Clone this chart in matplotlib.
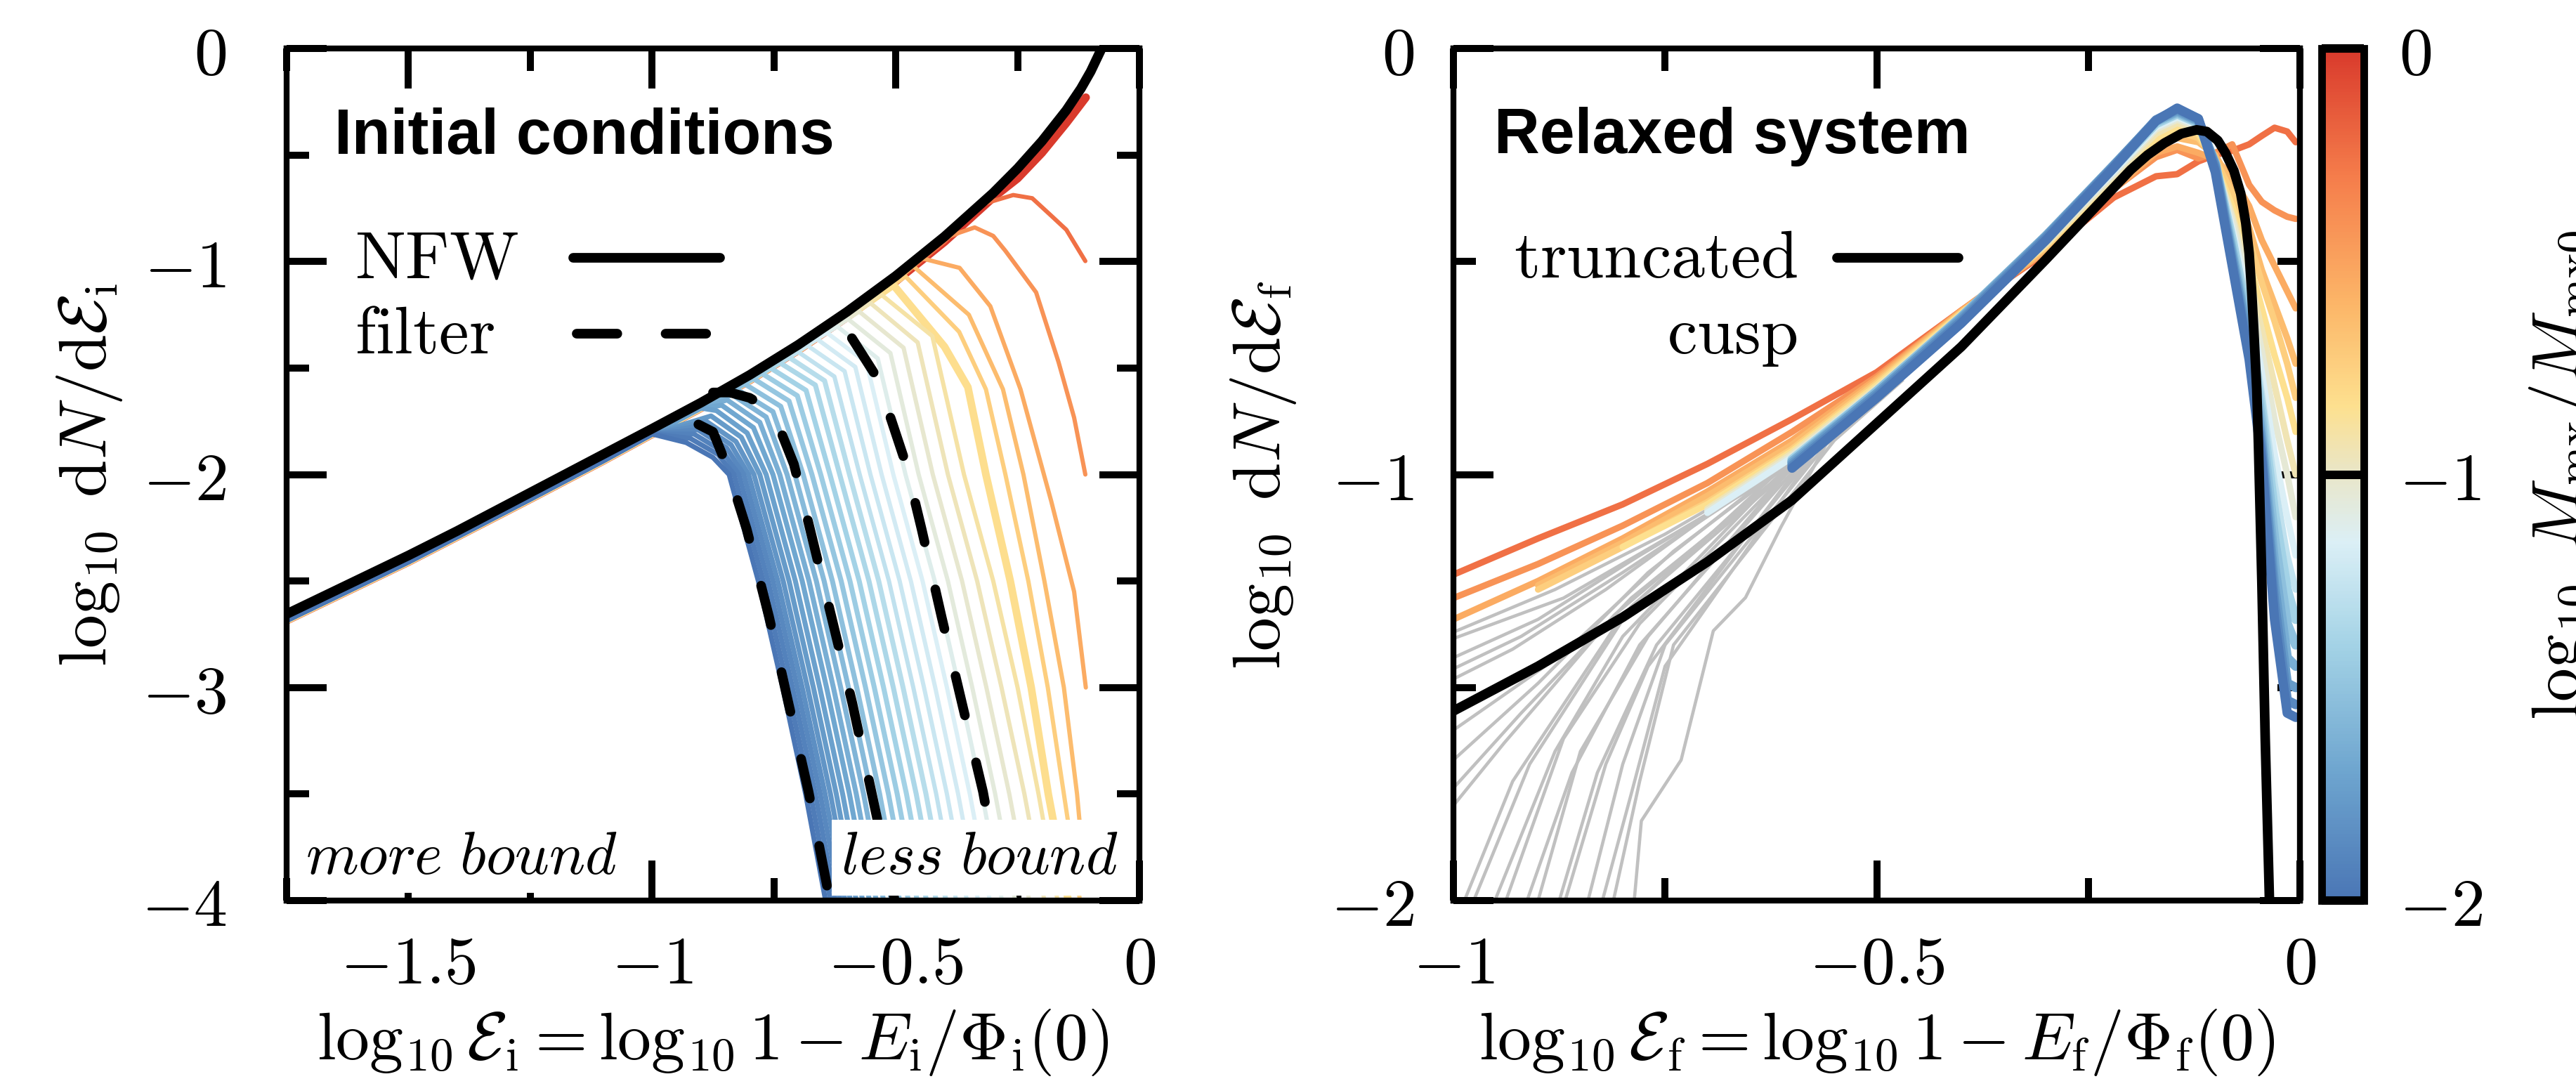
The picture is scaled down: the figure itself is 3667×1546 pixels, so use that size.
import numpy as np
import matplotlib
matplotlib.use("Agg")
import matplotlib.pyplot as plt
from matplotlib.colors import LinearSegmentedColormap, Normalize
from matplotlib.ticker import FixedLocator, FixedFormatter
from matplotlib.cm import ScalarMappable

plt.rcParams["mathtext.fontset"] = "cm"
plt.rcParams["font.family"] = ["DejaVu Sans"]

# ---------------------------------------------------------------- data
# Left panel: NFW energy distribution
nfw_x = [-1.75, -1.6, -1.5, -1.4, -1.3, -1.2, -1.1, -1.0, -0.9, -0.8, -0.7, -0.6,
         -0.5, -0.4, -0.3, -0.25, -0.2, -0.15, -0.12, -0.1, -0.08, -0.07]
nfw_y = [-2.655, -2.49, -2.38, -2.265, -2.145, -2.025, -1.905, -1.785, -1.663, -1.533,
         -1.391, -1.236, -1.068, -0.883, -0.678, -0.563, -0.435, -0.29, -0.188, -0.108,
         -0.012, 0.045]

# Left panel: shared low-energy branch of the sampled snapshots (just under NFW)
snap_low_x = [-1.75, -1.5, -1.25, -1.1, -1.0, -0.9, -0.8, -0.7, -0.6, -0.5, -0.4,
              -0.3, -0.25, -0.2, -0.15, -0.12]
snap_low_y = [-2.685, -2.41, -2.115, -1.935, -1.81, -1.688, -1.558, -1.416, -1.261,
              -1.093, -0.908, -0.703, -0.588, -0.46, -0.315, -0.213]

# Left panel: filter curves (dashed)
filter1_x = [-0.905, -0.875, -0.848, -0.806, -0.760, -0.720, -0.679, -0.636]
filter1_y = [-1.765, -1.80, -1.952, -2.256, -2.668, -3.075, -3.489, -3.99]
filter2_x = [-0.875, -0.84, -0.80, -0.77, -0.745, -0.709, -0.676, -0.632, -0.589, -0.550, -0.503]
filter2_y = [-1.615, -1.615, -1.64, -1.68, -1.745, -1.952, -2.256, -2.668, -3.075, -3.489, -3.99]
filter3_x = [-0.59, -0.54, -0.509, -0.479, -0.447, -0.406, -0.364, -0.321, -0.28]
filter3_y = [-1.36, -1.54, -1.745, -1.952, -2.256, -2.668, -3.075, -3.489, -4.0]

# Left panel: stripped snapshots (colour = log10 Mmx/Mmx0); vertices after leaving NFW
left_c = [-2.00, -1.96, -1.92, -1.88, -1.84, -1.80, -1.76, -1.72, -1.68, -1.64,
          -1.60, -1.56, -1.52, -1.48, -1.44, -1.40, -1.36, -1.32, -1.28, -1.24,
          -1.20, -1.16, -1.12, -1.07, -1.02, -0.96, -0.90, -0.83, -0.74, -0.64,
          -0.54, -0.42, -0.25, 0.00]
left_vx = [
    [-0.930, -0.875, -0.842, -0.782, -0.732, -0.685, -0.644],
    [-0.922, -0.865, -0.832, -0.772, -0.722, -0.675, -0.634],
    [-0.914, -0.856, -0.822, -0.762, -0.712, -0.665, -0.624],
    [-0.906, -0.847, -0.812, -0.752, -0.702, -0.655, -0.614],
    [-0.898, -0.838, -0.802, -0.742, -0.692, -0.645, -0.604],
    [-0.889, -0.828, -0.791, -0.731, -0.681, -0.634, -0.593],
    [-0.879, -0.817, -0.779, -0.719, -0.669, -0.622, -0.581],
    [-0.868, -0.805, -0.766, -0.706, -0.656, -0.609, -0.568],
    [-0.857, -0.792, -0.752, -0.692, -0.642, -0.595, -0.554],
    [-0.846, -0.779, -0.738, -0.678, -0.628, -0.581, -0.540],
    [-0.836, -0.766, -0.723, -0.663, -0.613, -0.566, -0.525],
    [-0.826, -0.752, -0.707, -0.647, -0.597, -0.550, -0.509],
    [-0.810, -0.736, -0.690, -0.630, -0.580, -0.533, -0.492],
    [-0.792, -0.719, -0.672, -0.612, -0.562, -0.515, -0.474],
    [-0.775, -0.702, -0.654, -0.594, -0.544, -0.497, -0.456],
    [-0.757, -0.684, -0.635, -0.575, -0.525, -0.478, -0.437],
    [-0.738, -0.665, -0.615, -0.555, -0.505, -0.458, -0.417],
    [-0.719, -0.646, -0.595, -0.535, -0.485, -0.438, -0.397],
    [-0.700, -0.626, -0.574, -0.514, -0.464, -0.417, -0.376],
    [-0.681, -0.605, -0.552, -0.492, -0.442, -0.395, -0.354],
    [-0.661, -0.583, -0.529, -0.469, -0.419, -0.372, -0.331],
    [-0.641, -0.560, -0.505, -0.445, -0.395, -0.348, -0.307],
    [-0.620, -0.537, -0.480, -0.420, -0.370, -0.323, -0.282],
    [-0.598, -0.511, -0.453, -0.393, -0.343, -0.296, -0.255],
    [-0.575, -0.484, -0.424, -0.364, -0.314, -0.267, -0.226],
    [-0.552, -0.455, -0.393, -0.333, -0.283, -0.236, -0.195],
    [-0.530, -0.425, -0.360, -0.300, -0.250, -0.207, -0.168],
    [-0.505, -0.400, -0.352, -0.315, -0.265, -0.222, -0.187, -0.146],
    [-0.480, -0.370, -0.315, -0.275, -0.228, -0.188, -0.155, -0.122],
    [-0.465, -0.350, -0.280, -0.238, -0.195, -0.155, -0.128, -0.110],
    [-0.447, -0.369, -0.306, -0.244, -0.181, -0.134, -0.110],
    [-0.420, -0.370, -0.338, -0.300, -0.275, -0.212, -0.166, -0.134, -0.111],
    [-0.330, -0.306, -0.259, -0.220, -0.181, -0.150, -0.111],
    [-0.300, -0.250, -0.200, -0.150, -0.110],
]
left_vy = [
    [-1.850, -1.920, -2.0, -2.5, -3.0, -3.5, -4.0],
    [-1.830, -1.905, -2.0, -2.5, -3.0, -3.5, -4.0],
    [-1.810, -1.890, -2.0, -2.5, -3.0, -3.5, -4.0],
    [-1.790, -1.875, -2.0, -2.5, -3.0, -3.5, -4.0],
    [-1.770, -1.860, -2.0, -2.5, -3.0, -3.5, -4.0],
    [-1.750, -1.845, -2.0, -2.5, -3.0, -3.5, -4.0],
    [-1.725, -1.825, -2.0, -2.5, -3.0, -3.5, -4.0],
    [-1.700, -1.805, -2.0, -2.5, -3.0, -3.5, -4.0],
    [-1.675, -1.780, -2.0, -2.5, -3.0, -3.5, -4.0],
    [-1.650, -1.755, -2.0, -2.5, -3.0, -3.5, -4.0],
    [-1.625, -1.730, -2.0, -2.5, -3.0, -3.5, -4.0],
    [-1.600, -1.705, -2.0, -2.5, -3.0, -3.5, -4.0],
    [-1.575, -1.680, -2.0, -2.5, -3.0, -3.5, -4.0],
    [-1.550, -1.655, -2.0, -2.5, -3.0, -3.5, -4.0],
    [-1.525, -1.630, -2.0, -2.5, -3.0, -3.5, -4.0],
    [-1.500, -1.605, -2.0, -2.5, -3.0, -3.5, -4.0],
    [-1.475, -1.580, -2.0, -2.5, -3.0, -3.5, -4.0],
    [-1.450, -1.560, -2.0, -2.5, -3.0, -3.5, -4.0],
    [-1.425, -1.540, -2.0, -2.5, -3.0, -3.5, -4.0],
    [-1.395, -1.515, -2.0, -2.5, -3.0, -3.5, -4.0],
    [-1.365, -1.495, -2.0, -2.5, -3.0, -3.5, -4.0],
    [-1.335, -1.475, -2.0, -2.5, -3.0, -3.5, -4.0],
    [-1.305, -1.455, -2.0, -2.5, -3.0, -3.5, -4.0],
    [-1.270, -1.430, -2.0, -2.5, -3.0, -3.5, -4.0],
    [-1.235, -1.405, -2.0, -2.5, -3.0, -3.5, -4.0],
    [-1.195, -1.380, -2.0, -2.5, -3.0, -3.5, -4.0],
    [-1.155, -1.350, -2.0, -2.5, -3.0, -3.5, -4.0],
    [-1.110, -1.400, -1.590, -2.0, -2.5, -3.0, -3.5, -4.0],
    [-1.070, -1.330, -1.600, -2.0, -2.5, -3.0, -3.5, -4.0],
    [-1.020, -1.250, -1.600, -2.0, -2.5, -3.0, -3.5, -3.95],
    [-0.985, -1.030, -1.210, -1.600, -2.125, -2.550, -3.0],
    [-0.910, -0.865, -0.840, -0.880, -0.950, -1.145, -1.472, -1.733, -2.0],
    [-0.740, -0.720, -0.688, -0.703, -0.785, -0.851, -0.998],
    [-0.700, -0.610, -0.490, -0.350, -0.230],
]

# Right panel: truncated cusp model
trunc_x = [-1.0, -0.9, -0.8, -0.7, -0.6, -0.5, -0.4, -0.3, -0.25, -0.2, -0.18, -0.16,
           -0.14, -0.122, -0.11, -0.097, -0.088, -0.078, -0.07, -0.064, -0.06, -0.057,
           -0.054, -0.051, -0.049, -0.045, -0.041, -0.036, -0.034]
trunc_y = [-1.555, -1.45, -1.335, -1.205, -1.06, -0.88, -0.70, -0.495, -0.39, -0.285,
           -0.25, -0.222, -0.20, -0.191, -0.195, -0.216, -0.245, -0.287, -0.34, -0.409,
           -0.48, -0.57, -0.68, -0.80, -0.93, -1.25, -1.62, -2.0, -2.2]

# Right panel: relaxed snapshots on a common energy grid (nan = not shown in colour)
nan = float("nan")
right_x = [-1.0, -0.9, -0.8, -0.7, -0.6, -0.5, -0.4, -0.3, -0.22, -0.17, -0.145,
           -0.12, -0.1, -0.08, -0.06, -0.045, -0.03, -0.015, -0.005]
right_c = [-2.00, -1.88, -1.76, -1.64, -1.52, -1.40, -1.28, -1.16, -1.04, -0.94,
           -0.84, -0.74, -0.64, -0.54, -0.42, -0.25]
right_y = [
    [nan, nan, nan, nan, -0.985, -0.82, -0.645, -0.45, -0.28, -0.17, -0.14, -0.165, -0.29, -0.51, -0.73, -0.97, -1.34, -1.56, -1.57],
    [nan, nan, nan, nan, -0.98, -0.815, -0.64, -0.445, -0.277, -0.168, -0.142, -0.165, -0.28, -0.50, -0.72, -0.95, -1.30, -1.53, -1.54],
    [nan, nan, nan, nan, -0.975, -0.81, -0.635, -0.442, -0.275, -0.168, -0.145, -0.168, -0.275, -0.49, -0.70, -0.93, -1.26, -1.49, -1.50],
    [nan, nan, nan, nan, -0.97, -0.81, -0.632, -0.44, -0.274, -0.17, -0.148, -0.17, -0.272, -0.48, -0.69, -0.91, -1.21, -1.43, -1.45],
    [nan, nan, nan, nan, -0.97, -0.805, -0.63, -0.44, -0.276, -0.172, -0.15, -0.172, -0.27, -0.47, -0.67, -0.88, -1.15, -1.35, -1.40],
    [nan, nan, nan, nan, -0.965, -0.805, -0.63, -0.442, -0.28, -0.176, -0.153, -0.175, -0.27, -0.45, -0.65, -0.85, -1.09, -1.27, -1.34],
    [nan, nan, nan, nan, -0.965, -0.80, -0.63, -0.445, -0.285, -0.18, -0.157, -0.178, -0.27, -0.44, -0.62, -0.81, -1.02, -1.19, -1.27],
    [nan, nan, nan, -1.09, -0.96, -0.80, -0.628, -0.45, -0.29, -0.185, -0.162, -0.18, -0.27, -0.42, -0.59, -0.76, -0.95, -1.10, -1.19],
    [nan, nan, nan, -1.085, -0.955, -0.80, -0.627, -0.455, -0.295, -0.19, -0.167, -0.185, -0.27, -0.40, -0.56, -0.71, -0.87, -1.00, -1.10],
    [nan, nan, nan, -1.08, -0.95, -0.795, -0.625, -0.46, -0.30, -0.20, -0.175, -0.19, -0.27, -0.39, -0.53, -0.66, -0.79, -0.92, -1.00],
    [nan, nan, -1.17, -1.07, -0.945, -0.79, -0.622, -0.462, -0.305, -0.21, -0.185, -0.20, -0.27, -0.37, -0.50, -0.61, -0.72, -0.82, -0.90],
    [nan, -1.27, -1.17, -1.065, -0.94, -0.785, -0.62, -0.465, -0.31, -0.22, -0.195, -0.21, -0.26, -0.34, -0.45, -0.55, -0.64, -0.74, -0.82],
    [nan, -1.26, -1.16, -1.05, -0.93, -0.78, -0.618, -0.47, -0.32, -0.23, -0.21, -0.22, -0.25, -0.32, -0.42, -0.52, -0.60, -0.68, -0.74],
    [-1.34, -1.25, -1.15, -1.04, -0.92, -0.775, -0.616, -0.475, -0.33, -0.245, -0.23, -0.245, -0.26, -0.30, -0.37, -0.45, -0.51, -0.57, -0.61],
    [-1.29, -1.21, -1.12, -1.02, -0.90, -0.77, -0.615, -0.47, -0.33, -0.255, -0.238, -0.258, -0.245, -0.225, -0.32, -0.36, -0.38, -0.395, -0.40],
    [-1.235, -1.15, -1.07, -0.975, -0.87, -0.76, -0.615, -0.48, -0.35, -0.30, -0.295, -0.265, -0.25, -0.24, -0.225, -0.205, -0.186, -0.195, -0.22],
]

# Right panel: poorly resolved low-energy tails (grey)
gray_x = [
    [-0.55, -0.62, -0.75, -0.88, -1.0],
    [-0.53, -0.60, -0.74, -0.87, -1.0],
    [-0.55, -0.62, -0.78, -0.90, -1.0],
    [-0.57, -0.64, -0.80, -0.92, -1.0],
    [-0.58, -0.66, -0.82, -0.93, -1.0],
    [-0.54, -0.62, -0.74, -0.87, -1.0],
    [-0.55, -0.63, -0.77, -0.90, -1.0],
    [-0.52, -0.60, -0.79, -0.92, -1.0],
    [-0.53, -0.61, -0.81, -0.94, -1.0],
    [-0.55, -0.62, -0.80, -0.93, -0.987],
    [-0.52, -0.60, -0.79, -0.91, -0.976],
    [-0.53, -0.61, -0.80, -0.88, -0.951],
    [-0.52, -0.60, -0.78, -0.87, -0.938],
    [-0.50, -0.58, -0.78, -0.86, -0.913],
    [-0.51, -0.59, -0.77, -0.85, -0.900],
    [-0.49, -0.57, -0.76, -0.83, -0.875],
    [-0.50, -0.58, -0.77, -0.82, -0.868],
    [-0.48, -0.56, -0.75, -0.80, -0.841],
    [-0.49, -0.57, -0.75, -0.79, -0.824],
    [-0.47, -0.55, -0.74, -0.78, -0.811],
    [-0.48, -0.56, -0.613, -0.655, -0.693, -0.731, -0.778, -0.786],
]
gray_y = [
    [-0.90, -0.99, -1.14, -1.27, -1.37],
    [-0.86, -0.975, -1.14, -1.29, -1.385],
    [-0.89, -1.00, -1.19, -1.34, -1.43],
    [-0.92, -1.02, -1.23, -1.38, -1.456],
    [-0.94, -1.04, -1.27, -1.41, -1.48],
    [-0.88, -1.00, -1.18, -1.42, -1.60],
    [-0.89, -1.01, -1.23, -1.49, -1.67],
    [-0.85, -0.985, -1.29, -1.56, -1.736],
    [-0.86, -0.995, -1.33, -1.63, -1.777],
    [-0.89, -1.00, -1.33, -1.72, -2.0],
    [-0.85, -0.985, -1.31, -1.68, -2.0],
    [-0.86, -0.99, -1.38, -1.65, -2.0],
    [-0.85, -0.985, -1.35, -1.62, -2.0],
    [-0.82, -0.95, -1.40, -1.70, -2.0],
    [-0.84, -0.96, -1.38, -1.65, -2.0],
    [-0.81, -0.94, -1.40, -1.70, -2.0],
    [-0.82, -0.95, -1.45, -1.68, -2.0],
    [-0.79, -0.93, -1.40, -1.68, -2.0],
    [-0.80, -0.94, -1.45, -1.75, -2.0],
    [-0.78, -0.92, -1.40, -1.72, -2.0],
    [-0.79, -0.93, -1.123, -1.289, -1.367, -1.67, -1.813, -1.991],
]

# ticks and labels
left_xticks = [-1.5, -1.0, -0.5, 0.0]
left_xticklabels = [r"$-1.5$", r"$-1$", r"$-0.5$", r"$0$"]
left_yticks = [-4, -3, -2, -1, 0]
left_yticklabels = [r"$-4$", r"$-3$", r"$-2$", r"$-1$", r"$0$"]
right_xticks = [-1.0, -0.5, 0.0]
right_xticklabels = [r"$-1$", r"$-0.5$", r"$0$"]
right_yticks = [-2, -1, 0]
right_yticklabels = [r"$-2$", r"$-1$", r"$0$"]
cbar_ticks = [-2, -1, 0]
cbar_ticklabels = [r"$-2$", r"$-1$", r"$0$"]

# ---------------------------------------------------------------- style
cmap = LinearSegmentedColormap.from_list("rdylbu_mod", [
    (0.00, "#4a76b5"), (0.15, "#6ea5cf"), (0.30, "#a4d3e6"), (0.42, "#dbeff6"),
    (0.50, "#e9e6c9"), (0.58, "#fde08f"), (0.70, "#fcb668"), (0.85, "#f57d4b"),
    (1.00, "#d93a2c")])
norm = Normalize(vmin=-2, vmax=0)

W, H = 3667, 1546
DPI = 300
fig = plt.figure(figsize=(W / DPI, H / DPI), dpi=DPI)

ax_bottom = 1 - 1282 / H
ax_height = 1213 / H
ax1 = fig.add_axes([408 / W, ax_bottom, 1214 / W, ax_height])
ax2 = fig.add_axes([2069 / W, ax_bottom, 1205 / W, ax_height])
cax = fig.add_axes([3305 / W, ax_bottom, 60 / W, ax_height])

FS = 23
SPINE_LW = 2.0


def style_axes(ax, xminor, yminor, ypad):
    for s in ax.spines.values():
        s.set_linewidth(SPINE_LW)
        s.set_zorder(10)
    ax.xaxis.set_minor_locator(FixedLocator(xminor))
    ax.yaxis.set_minor_locator(FixedLocator(yminor))
    ax.tick_params(which="both", direction="in", top=True, right=True, width=2.4,
                   labelsize=FS)
    ax.tick_params(which="major", length=13.7)
    ax.tick_params(which="minor", length=7.6)
    ax.tick_params(axis="x", which="both", pad=10.8)
    ax.tick_params(axis="y", which="both", pad=ypad)


# ---------------- left panel
ax1.set_xlim(-1.75, 0)
ax1.set_ylim(-4, 0)
for c, vx, vy in sorted(zip(left_c, left_vx, left_vy), key=lambda t: -t[0]):
    px = [x for x in snap_low_x if x < vx[0] - 0.03] + list(vx)
    py = [y for x, y in zip(snap_low_x, snap_low_y) if x < vx[0] - 0.03] + list(vy)
    lw = 1.7 if c < -1.3 else 1.45
    if abs(c + 0.83) < 1e-6:
        lw = 2.6
    if c == 0.0:
        lw = 2.8
    ax1.plot(px, py, color=cmap(norm(c)), lw=lw, solid_capstyle="round",
             solid_joinstyle="round", zorder=2)

for fx, fy in [(filter1_x, filter1_y), (filter2_x, filter2_y), (filter3_x, filter3_y)]:
    ax1.plot(fx, fy, color="black", lw=3.3, linestyle=(0, (4.2, 5)),
             dash_capstyle="round", zorder=4)
ax1.plot(nfw_x, nfw_y, color="black", lw=3.3, solid_capstyle="round",
         solid_joinstyle="round", zorder=5)

style_axes(ax1, [-1.75, -1.25, -0.75, -0.25], [-3.5, -2.5, -1.5, -0.5], 20.6)
ax1.xaxis.set_major_locator(FixedLocator(left_xticks))
ax1.xaxis.set_major_formatter(FixedFormatter(left_xticklabels))
ax1.yaxis.set_major_locator(FixedLocator(left_yticks))
ax1.yaxis.set_major_formatter(FixedFormatter(left_yticklabels))

ax1.set_xlabel(r"$\log_{10}\mathcal{E}_\mathrm{i} = \log_{10} 1 - E_\mathrm{i}/\Phi_\mathrm{i}(0)$",
               fontsize=FS)
ax1.xaxis.set_label_coords(0.5, -0.125)
ax1.set_ylabel(r"$\log_{10}\ \mathrm{d}N/\mathrm{d}\mathcal{E}_\mathrm{i}$", fontsize=FS)
ax1.yaxis.set_label_coords(-0.19, 0.5)

ax1.text(0.056, 0.876, "Initial conditions", transform=ax1.transAxes,
         fontsize=21.5, fontweight="bold", family=["Liberation Sans", "DejaVu Sans"],
         ha="left", va="baseline", zorder=12)
# legend (text left, handle right)
ax1.text(0.080, 0.731, r"$\mathrm{NFW}$", transform=ax1.transAxes, fontsize=FS,
         ha="left", va="baseline")
ax1.text(0.080, 0.642, r"$\mathrm{filter}$", transform=ax1.transAxes, fontsize=FS,
         ha="left", va="baseline")
ax1.plot([0.336, 0.508], [0.7547, 0.7547], transform=ax1.transAxes, color="black",
         lw=3.3, solid_capstyle="round")
ax1.plot([0.340, 0.508], [0.665, 0.665], transform=ax1.transAxes, color="black",
         lw=3.3, linestyle=(0, (4.2, 5)), dash_capstyle="round")

ax1.text(0.022, 0.031, r"$\it{more\ bound}$", transform=ax1.transAxes, fontsize=20.5,
         ha="left", va="baseline", zorder=8,
         bbox=dict(facecolor="white", edgecolor="none", pad=2))
ax1.text(0.975, 0.031, r"$\it{less\ bound}$", transform=ax1.transAxes, fontsize=20.5,
         ha="right", va="baseline", zorder=8,
         bbox=dict(facecolor="white", edgecolor="none", pad=3))

# ---------------- right panel
ax2.set_xlim(-1, 0)
ax2.set_ylim(-2, 0)
for gx, gy in zip(gray_x, gray_y):
    ax2.plot(gx, gy, color="#c0c0c0", lw=1.1, zorder=1)
rx = np.array(right_x)
for c, ry in sorted(zip(right_c, right_y), key=lambda t: -t[0]):
    ry = np.array(ry)
    lw = 2.2 if c > -1.3 else 3.2
    ax2.plot(rx, ry, color=cmap(norm(c)), lw=lw, solid_capstyle="round",
             solid_joinstyle="round", zorder=2)
ax2.plot(trunc_x, trunc_y, color="black", lw=3.3, solid_joinstyle="round", zorder=5)

style_axes(ax2, [-0.75, -0.25], [-1.5, -0.5], 13.4)
ax2.xaxis.set_major_locator(FixedLocator(right_xticks))
ax2.xaxis.set_major_formatter(FixedFormatter(right_xticklabels))
ax2.yaxis.set_major_locator(FixedLocator(right_yticks))
ax2.yaxis.set_major_formatter(FixedFormatter(right_yticklabels))
ax2.set_xlabel(r"$\log_{10}\mathcal{E}_\mathrm{f} = \log_{10} 1 - E_\mathrm{f}/\Phi_\mathrm{f}(0)$",
               fontsize=FS)
ax2.xaxis.set_label_coords(0.5, -0.125)
ax2.set_ylabel(r"$\log_{10}\ \mathrm{d}N/\mathrm{d}\mathcal{E}_\mathrm{f}$", fontsize=FS)
ax2.yaxis.set_label_coords(-0.183, 0.5)

ax2.text(0.048, 0.877, "Relaxed system", transform=ax2.transAxes,
         fontsize=21.5, fontweight="bold", family=["Liberation Sans", "DejaVu Sans"],
         ha="left", va="baseline", zorder=12)
ax2.text(0.4065, 0.731, r"$\mathrm{truncated}$", transform=ax2.transAxes, fontsize=FS,
         ha="right", va="baseline")
ax2.text(0.4065, 0.642, r"$\mathrm{cusp}$", transform=ax2.transAxes, fontsize=FS,
         ha="right", va="baseline")
ax2.plot([0.453, 0.597], [0.7547, 0.7547], transform=ax2.transAxes, color="black",
         lw=3.3, solid_capstyle="round")

# ---------------- colorbar
sm = ScalarMappable(norm=norm, cmap=cmap)
cb = fig.colorbar(sm, cax=cax)
cb.outline.set_linewidth(2.6)
cb.set_ticks(cbar_ticks)
cb.set_ticklabels(cbar_ticklabels)
cax.tick_params(direction="in", length=60 / DPI * 72, width=2.9, labelsize=FS,
                pad=12, right=True, left=False)
fig.text(3598 / W, 1 - 676 / H, r"$\log_{10}\ M_\mathrm{mx}/M_\mathrm{mx0}$",
         rotation=90, ha="left", va="center", fontsize=FS)

fig.savefig("out.png", dpi=DPI)
